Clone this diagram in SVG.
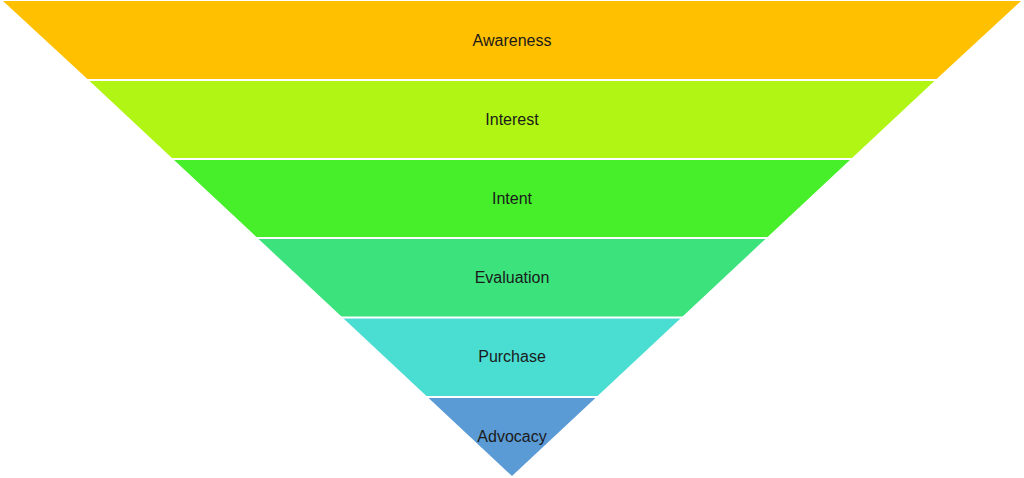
<svg xmlns="http://www.w3.org/2000/svg" width="1024" height="478" viewBox="0 0 1024 478">
<style>
.sep{stroke:#FFFFFF;stroke-width:2}
.lbl{font-family:"Liberation Sans",Arial,sans-serif;font-size:16px;fill:#1a1a1a;text-anchor:middle}
</style>
<rect width="1024" height="478" fill="#FFFFFF"/>
<g id="awareness"><polygon fill="#FFC000" points="3,1 1021,1 935.5,80 88.5,80"/><text class="lbl" x="512" y="46">Awareness</text></g>
<g id="interest"><polygon fill="#B0F514" points="88.5,80 935.5,80 851,159 173,159"/><text class="lbl" x="512" y="125">Interest</text></g>
<g id="intent"><polygon fill="#46EF2A" points="173,159 851,159 766.5,238 257.5,238"/><text class="lbl" x="512" y="204">Intent</text></g>
<g id="evaluation"><polygon fill="#3CE37D" points="257.5,238 766.5,238 681.5,317.5 342.5,317.5"/><text class="lbl" x="512" y="283">Evaluation</text></g>
<g id="purchase"><polygon fill="#4ADDD2" points="342.5,317.5 681.5,317.5 596.5,397 427.5,397"/><text class="lbl" x="512" y="362">Purchase</text></g>
<g id="advocacy"><polygon fill="#5B9BD5" points="427.5,397 596.5,397 512,476"/><text class="lbl" x="512" y="442">Advocacy</text></g>
<g id="connectors">
<line class="sep" x1="80" y1="80" x2="944" y2="80"/>
<line class="sep" x1="165" y1="159" x2="859" y2="159"/>
<line class="sep" x1="250" y1="238" x2="774" y2="238"/>
<line class="sep" x1="335" y1="317.5" x2="689" y2="317.5"/>
<line class="sep" x1="420" y1="397" x2="604" y2="397"/>
</g>
</svg>
